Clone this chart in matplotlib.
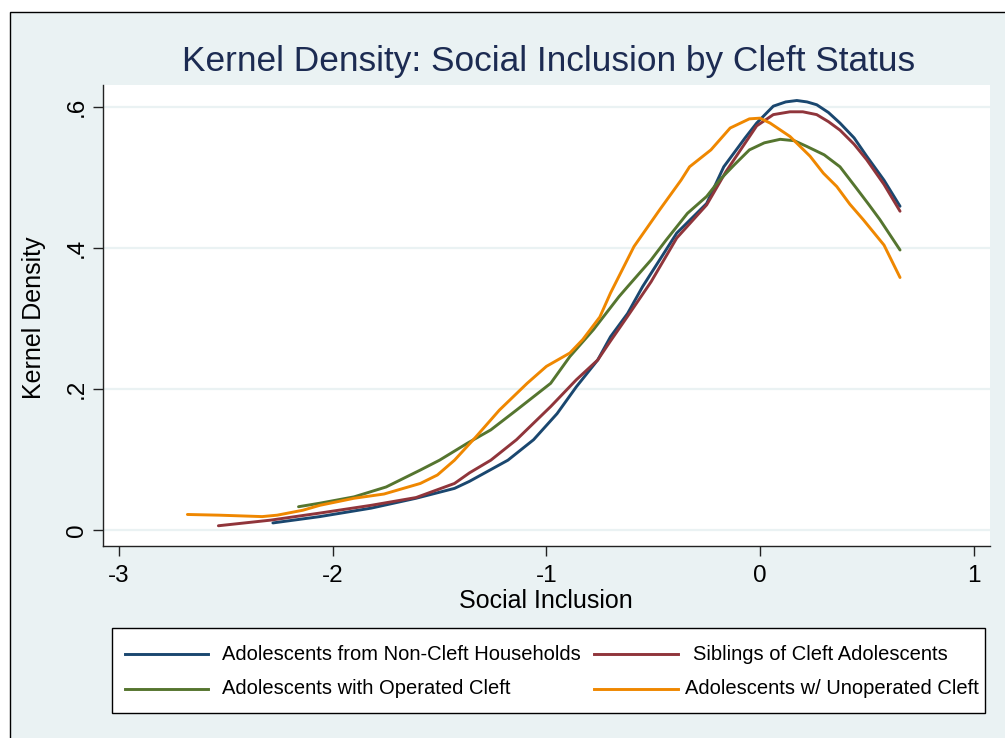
import matplotlib
matplotlib.use("Agg")
import matplotlib.pyplot as plt
from matplotlib.patches import Rectangle
from matplotlib.lines import Line2D

# ---------------- data ----------------
noncleft_x = [-2.28, -2.06, -1.82, -1.61, -1.43, -1.36, -1.18, -1.06, -0.95, -0.86, -0.76, -0.70,
              -0.62, -0.55, -0.39, -0.25, -0.17, -0.07, -0.016, 0.062, 0.12, 0.172, 0.22, 0.265,
              0.32, 0.374, 0.44, 0.499, 0.58, 0.655]
noncleft_y = [0.010, 0.019, 0.031, 0.045, 0.059, 0.069, 0.099, 0.128, 0.165, 0.203, 0.241, 0.274,
              0.307, 0.345, 0.421, 0.463, 0.515, 0.556, 0.577, 0.601, 0.607, 0.609, 0.607, 0.603,
              0.592, 0.577, 0.556, 0.530, 0.496, 0.459]

siblings_x = [-2.535, -2.29, -2.06, -1.82, -1.61, -1.43, -1.36, -1.26, -1.14, -0.98, -0.86, -0.76,
              -0.70, -0.62, -0.51, -0.39, -0.25, -0.16, -0.016, 0.062, 0.14, 0.20, 0.265, 0.32,
              0.374, 0.44, 0.499, 0.58, 0.655]
siblings_y = [0.006, 0.014, 0.024, 0.035, 0.046, 0.066, 0.081, 0.099, 0.128, 0.175, 0.213, 0.241,
              0.268, 0.303, 0.352, 0.414, 0.461, 0.508, 0.573, 0.589, 0.593, 0.593, 0.589, 0.579,
              0.567, 0.547, 0.525, 0.490, 0.452]

operated_x = [-2.16, -2.06, -1.90, -1.75, -1.59, -1.50, -1.37, -1.26, -1.14, -0.98, -0.89, -0.78,
              -0.66, -0.62, -0.51, -0.44, -0.34, -0.25, -0.19, -0.12, -0.05, 0.02, 0.094, 0.16,
              0.218, 0.30, 0.374, 0.45, 0.51, 0.561, 0.655]
operated_y = [0.033, 0.038, 0.047, 0.061, 0.085, 0.099, 0.123, 0.142, 0.170, 0.208, 0.246, 0.284,
              0.331, 0.345, 0.383, 0.411, 0.449, 0.473, 0.496, 0.518, 0.539, 0.549, 0.554, 0.552,
              0.544, 0.532, 0.515, 0.485, 0.461, 0.440, 0.397]

unoperated_x = [-2.68, -2.53, -2.33, -2.26, -2.14, -2.06, -1.90, -1.76, -1.59, -1.51, -1.43, -1.33,
                -1.22, -1.09, -1.00, -0.89, -0.83, -0.75, -0.70, -0.59, -0.47, -0.37, -0.33, -0.23,
                -0.14, -0.05, 0.0, 0.047, 0.14, 0.234, 0.296, 0.359, 0.42, 0.483, 0.58, 0.655]
unoperated_y = [0.022, 0.021, 0.019, 0.021, 0.028, 0.035, 0.045, 0.051, 0.066, 0.078, 0.099, 0.132,
                0.170, 0.208, 0.232, 0.251, 0.270, 0.302, 0.336, 0.402, 0.454, 0.496, 0.515, 0.539,
                0.570, 0.583, 0.584, 0.577, 0.558, 0.530, 0.506, 0.487, 0.462, 0.440, 0.404, 0.358]

series_labels = ["Adolescents from Non-Cleft Households", "Siblings of Cleft Adolescents",
                 "Adolescents with Operated Cleft", "Adolescents w/ Unoperated Cleft"]
series_colors = ["#1A476F", "#90353B", "#55752F", "#EF8700"]

x_ticks = [-3, -2, -1, 0, 1]
x_ticklabels = ["-3", "-2", "-1", "0", "1"]
y_ticks = [0, 0.2, 0.4, 0.6]
y_ticklabels = ["0", ".2", ".4", ".6"]

title = "Kernel Density: Social Inclusion by Cleft Status"
xlabel = "Social Inclusion"
ylabel = "Kernel Density"

# ---------------- figure ----------------
plt.rcParams['font.family'] = ['Liberation Sans', 'DejaVu Sans']
W, H = 1005, 738
fig = plt.figure(figsize=(W / 100, H / 100), dpi=100)
fig.patch.set_facecolor("white")

BG = "#EAF2F3"
def fx(px): return px / W
def fy(py): return 1 - py / H

# graph region with border (top/left visible)
fig.patches.append(Rectangle((fx(10), -0.05), 1.2, fy(12) + 0.05, transform=fig.transFigure,
                             facecolor=BG, edgecolor="black", lw=1.0, zorder=-5))

ax = fig.add_axes([fx(103), fy(546), fx(990) - fx(103), fy(85) - fy(546)])
ax.set_zorder(1)
ax.set_facecolor("white")
ax.set_xlim(-3.075, 1.076)
ax.set_ylim(-0.0227, 0.631)

for yt in y_ticks:
    ax.axhline(yt, color=BG, lw=1.6, zorder=1)

xs = [noncleft_x, siblings_x, operated_x, unoperated_x]
ys = [noncleft_y, siblings_y, operated_y, unoperated_y]
handles = []
for x, y, c, lab in zip(xs, ys, series_colors, series_labels):
    ln, = ax.plot(x, y, color=c, lw=2.1, label=lab, zorder=3, solid_joinstyle="round",
                  solid_capstyle="round")
    handles.append(ln)

for s in ["top", "right"]:
    ax.spines[s].set_visible(False)
for s in ["left", "bottom"]:
    ax.spines[s].set_color("#222222")
    ax.spines[s].set_linewidth(1.0)

ax.set_xticks(x_ticks)
ax.set_xticklabels(x_ticklabels, fontsize=17.5)
ax.set_yticks(y_ticks)
ax.set_yticklabels(y_ticklabels, fontsize=17.5, rotation=90, va="center")
ax.tick_params(axis="x", length=7, width=1.0, color="#222222", pad=7)
ax.tick_params(axis="y", length=7, width=1.0, color="#222222", pad=4)

fig.text(fx(546), fy(601), xlabel, fontsize=18, ha="center", va="center")
fig.text(fx(34), fy(318), ylabel, fontsize=18, ha="center", va="center", rotation=90)
fig.text(fx(549), fy(61), title, fontsize=25.4, ha="center", va="center", color="#1C2B52")

# legend box
fig.patches.append(Rectangle((fx(112), fy(713)), fx(985) - fx(112), fy(628) - fy(713),
                             transform=fig.transFigure, facecolor="white", edgecolor="black",
                             lw=1.0, zorder=2))
leg_pos = [(125, 208, 222, 654), (594, 678, 693, 654), (125, 208, 222, 689), (594, 678, 685, 689)]
for h, (x0, x1, tx, ty) in zip(handles, leg_pos):
    fig.add_artist(Line2D([fx(x0), fx(x1)], [fy(ty), fy(ty)], transform=fig.transFigure,
                          color=h.get_color(), lw=2.1, zorder=3))
    fig.text(fx(tx), fy(ty), h.get_label(), fontsize=14.5, ha="left", va="center", zorder=3)

fig.savefig("out.png", dpi=100)
